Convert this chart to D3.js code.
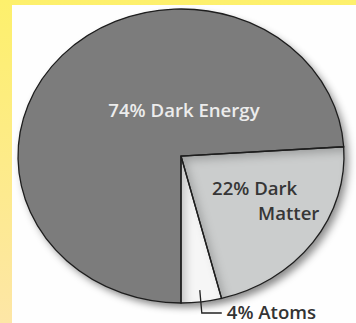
<!DOCTYPE html>
<html>
<head>
<meta charset="utf-8">
<script src="https://cdn.jsdelivr.net/npm/d3@7/dist/d3.min.js"></script>
<style>
  html, body { margin: 0; padding: 0; background: #fff; }
  svg { display: block; }
  text { font-family: "Open Sans", "Noto Sans", sans-serif; font-weight: 600; }
</style>
</head>
<body>
<svg id="chart" width="356" height="323"></svg>
<script>
// Composition of the universe
const categories = ["Dark Energy", "Dark Matter", "Atoms"];
const shares = [74, 22, 4];
const labels = ["74% Dark Energy", "22% Dark\nMatter", "4% Atoms"];

const W = 356, H = 323;
const svg = d3.select("#chart");
const defs = svg.append("defs");

// yellow frame
const gY = defs.append("linearGradient").attr("id", "frameY")
  .attr("x1", 0).attr("y1", 0).attr("x2", 0).attr("y2", 1);
gY.append("stop").attr("offset", 0).attr("stop-color", "#fdf06c");
gY.append("stop").attr("offset", 1).attr("stop-color", "#fde6a6");
svg.append("rect").attr("width", W).attr("height", H).attr("fill", "url(#frameY)");
svg.append("rect").attr("x", 12).attr("y", 5).attr("width", W - 12).attr("height", H - 5)
  .attr("fill", "#fefefe");

// soft drop shadow under the whole pie
const ds = defs.append("filter").attr("id", "drop")
  .attr("x", "-20%").attr("y", "-20%").attr("width", "140%").attr("height", "140%");
ds.append("feDropShadow").attr("dx", 4).attr("dy", 5).attr("stdDeviation", 4)
  .attr("flood-color", "#000").attr("flood-opacity", 0.45);

// inset shadow for the recessed slices
const ins = defs.append("filter").attr("id", "inset")
  .attr("x", "-20%").attr("y", "-20%").attr("width", "140%").attr("height", "140%");
ins.append("feOffset").attr("in", "SourceAlpha").attr("dx", 5).attr("dy", 6).attr("result", "off");
ins.append("feGaussianBlur").attr("in", "off").attr("stdDeviation", 5).attr("result", "blur");
ins.append("feComposite").attr("in", "SourceAlpha").attr("in2", "blur")
  .attr("operator", "arithmetic").attr("k2", 1).attr("k3", -1).attr("result", "rim");
ins.append("feFlood").attr("flood-color", "#000").attr("flood-opacity", 0.42);
ins.append("feComposite").attr("in2", "rim").attr("operator", "in").attr("result", "shade");
ins.append("feComposite").attr("in", "shade").attr("in2", "SourceGraphic").attr("operator", "over");

// pie geometry: drawn as a circle of radius rx and squashed vertically
const cx = 181, cy = 156, rx = 163, ry = 147;
const k = ry / rx;

const color = d3.scaleOrdinal()
  .domain(categories)
  .range(["#7c7c7c", "#cbcdcd", "#f6f6f6"]);

// slice order clockwise: dark matter, atoms, then dark energy from 6 o'clock
const order = ["Dark Matter", "Atoms", "Dark Energy"];
const data = categories.map((c, i) => ({ cat: c, value: shares[i], label: labels[i] }));
const sumSmall = shares[1] + shares[2];
const a0 = Math.PI - 2 * Math.PI * sumSmall / d3.sum(shares);
const pie = d3.pie()
  .value(d => d.value)
  .sort((a, b) => order.indexOf(a.cat) - order.indexOf(b.cat))
  .startAngle(a0)
  .endAngle(a0 + 2 * Math.PI);

const arcs = pie(data);
const arc = d3.arc().innerRadius(0).outerRadius(rx);

const g = svg.append("g")
  .attr("transform", `translate(${cx},${cy}) scale(1,${k})`);

const shadowLayer = g.append("g").attr("filter", "url(#drop)");
shadowLayer.append("path")
  .attr("d", d3.arc().innerRadius(0).outerRadius(rx).startAngle(0).endAngle(2 * Math.PI)())
  .attr("fill", "#7c7c7c");

g.selectAll("path.slice")
  .data(arcs)
  .join("path")
  .attr("class", "slice")
  .attr("d", arc)
  .attr("fill", d => color(d.data.cat))
  .attr("filter", d => d.data.cat === "Dark Energy" ? null : "url(#inset)");

g.selectAll("path.edge")
  .data(arcs)
  .join("path")
  .attr("class", "edge")
  .attr("d", arc)
  .attr("fill", "none")
  .attr("stroke", "#1e1e1e")
  .attr("stroke-width", 1.3)
  .attr("stroke-linejoin", "miter")
  .attr("vector-effect", "non-scaling-stroke");

// map a pie angle/radius to page coordinates
const pt = (a, r) => [cx + Math.sin(a) * r, cy - Math.cos(a) * r * k];

const byCat = c => arcs.find(d => d.data.cat === c);
const fs = 18.6;

// Dark energy label
svg.append("text")
  .attr("x", cx + 3).attr("y", cy - 39)
  .attr("text-anchor", "middle")
  .attr("font-size", fs)
  .attr("fill", "#ececec")
  .text(byCat("Dark Energy").data.label);

// Dark matter label (two lines)
const dmLines = byCat("Dark Matter").data.label.split("\n");
const dm = svg.append("text").attr("font-size", fs).attr("fill", "#363636");
dm.append("tspan").attr("x", cx + 31).attr("y", cy + 38.5).text(dmLines[0]);
dm.append("tspan").attr("x", cx + 77).attr("y", cy + 64).text(dmLines[1]);

// Atoms label with leader line
const at = byCat("Atoms");
const mid = (at.startAngle + at.endAngle) / 2;
const p0 = pt(mid, rx * 0.92);
const elbow = [p0[0] + 2, 313];
svg.append("path")
  .attr("d", d3.line()([p0, elbow, [elbow[0] + 20, elbow[1]]]))
  .attr("fill", "none")
  .attr("stroke", "#222")
  .attr("stroke-width", 1.3);
svg.append("text")
  .attr("x", elbow[0] + 25).attr("y", 318.5)
  .attr("font-size", fs)
  .attr("fill", "#333")
  .text(at.data.label);
</script>
</body>
</html>
